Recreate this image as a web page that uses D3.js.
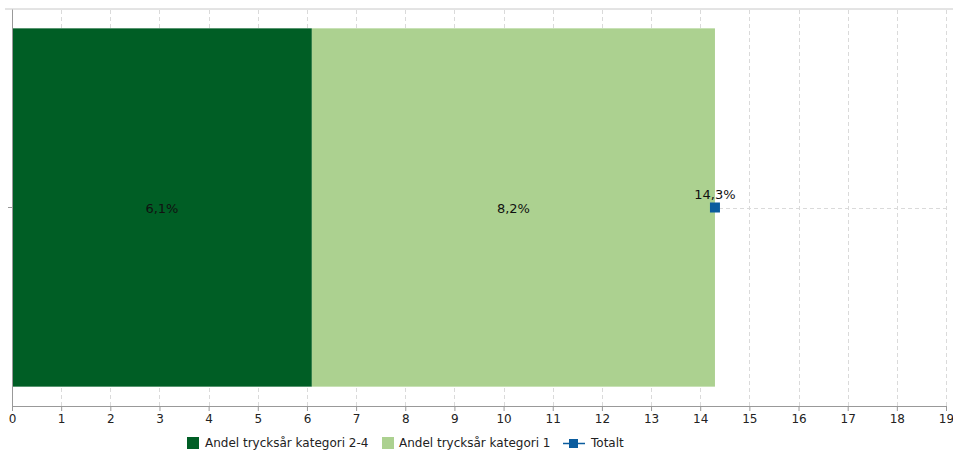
<!DOCTYPE html>
<html>
<head>
<meta charset="utf-8">
<script src="https://cdn.jsdelivr.net/npm/d3@7"></script>
<style>
  body { margin: 0; background: #fff; }
  svg text { font-family: "DejaVu Sans", sans-serif; }
</style>
</head>
<body>
<svg id="chart" width="953" height="452"></svg>
<script>
// Data
const categories = [""];
const seriesNames = ["Andel trycksår kategori 2-4", "Andel trycksår kategori 1", "Totalt"];
const cat24 = [6.1];
const cat1 = [8.2];
const totalt = [14.3];
const xTicks = d3.range(0, 20);

const colors = { cat24: "#005e25", cat1: "#acd190", totalt: "#0b5c9e" };

const svg = d3.select("#chart");
const m = { left: 12, right: 946, top: 9, bottom: 406 };

const x = d3.scaleLinear().domain([0, 19]).range([m.left, m.right]);
const y = d3.scaleBand().domain(categories).range([m.top, m.bottom]).paddingInner(0).paddingOuter(0.054);

// frame top line
svg.append("line").attr("x1", 5).attr("x2", 953).attr("y1", m.top).attr("y2", m.top)
  .attr("stroke", "#c8c8c8").attr("stroke-width", 1);

// vertical dashed grid
svg.append("g").selectAll("line").data(xTicks.filter(d => d > 0)).join("line")
  .attr("x1", d => Math.round(x(d)) + 0.5).attr("x2", d => Math.round(x(d)) + 0.5)
  .attr("y1", m.top + 1).attr("y2", m.bottom)
  .attr("stroke", "#dadada").attr("stroke-dasharray", "4,3");

// horizontal dashed grid at category centre
const cy = y(categories[0]) + y.bandwidth() / 2;
svg.append("line").attr("x1", m.left).attr("x2", m.right)
  .attr("y1", Math.round(cy) + 0.5).attr("y2", Math.round(cy) + 0.5)
  .attr("stroke", "#dadada").attr("stroke-dasharray", "4,3");

// stacked bars
const stacks = categories.map((c, i) => [
  { key: "cat24", x0: 0, x1: cat24[i], label: cat24[i] },
  { key: "cat1", x0: cat24[i], x1: cat24[i] + cat1[i], label: cat1[i] }
]).flat();

const fmt = v => d3.format(".1f")(v).replace(".", ",") + "%";

svg.append("g").selectAll("rect").data(stacks).join("rect")
  .attr("x", d => x(d.x0)).attr("width", d => x(d.x1) - x(d.x0))
  .attr("y", y(categories[0])).attr("height", y.bandwidth())
  .attr("fill", d => colors[d.key]);

svg.append("g").selectAll("text").data(stacks).join("text")
  .attr("x", d => (x(d.x0) + x(d.x1)) / 2).attr("y", cy + 5)
  .attr("text-anchor", "middle").attr("font-size", 13).attr("fill", "#111")
  .text(d => fmt(d.label));

// axes
const xAxis = d3.axisBottom(x).tickValues(xTicks).tickSize(5).tickPadding(3);
const gx = svg.append("g").attr("transform", `translate(0,${m.bottom})`).call(xAxis);
gx.selectAll("path,line").attr("stroke", "#999");
gx.selectAll("text").attr("font-size", 12).attr("fill", "#222").attr("font-family", "DejaVu Sans");

const gy = svg.append("g").attr("transform", `translate(${m.left},0)`)
  .call(d3.axisLeft(y).tickSize(4).tickSizeOuter(0));
gy.selectAll("path,line").attr("stroke", "#999");
gy.selectAll("text").remove();

// Totalt marker
svg.append("g").selectAll("rect").data(totalt).join("rect")
  .attr("x", d => x(d) - 5).attr("y", cy - 5).attr("width", 10).attr("height", 10)
  .attr("fill", colors.totalt);
svg.append("g").selectAll("text").data(totalt).join("text")
  .attr("x", d => x(d)).attr("y", cy - 9).attr("text-anchor", "middle")
  .attr("font-size", 13).attr("fill", "#111").text(d => fmt(d));

// legend
const lg = svg.append("g").attr("font-size", 12);
const ly = 443;
lg.append("rect").attr("x", 187).attr("y", ly - 6).attr("width", 12).attr("height", 12).attr("fill", colors.cat24);
lg.append("text").attr("x", 205).attr("y", ly + 4).attr("fill", "#222").text(seriesNames[0]);
lg.append("rect").attr("x", 382).attr("y", ly - 6).attr("width", 12).attr("height", 12).attr("fill", colors.cat1);
lg.append("text").attr("x", 399).attr("y", ly + 4).attr("fill", "#222").text(seriesNames[1]);
lg.append("line").attr("x1", 563).attr("x2", 585).attr("y1", ly + 0.5).attr("y2", ly + 0.5).attr("stroke", colors.totalt).attr("stroke-width", 1.5);
lg.append("rect").attr("x", 569).attr("y", ly - 4).attr("width", 9).attr("height", 9).attr("fill", colors.totalt);
lg.append("text").attr("x", 591).attr("y", ly + 4).attr("fill", "#222").text(seriesNames[2]);
</script>
</body>
</html>
